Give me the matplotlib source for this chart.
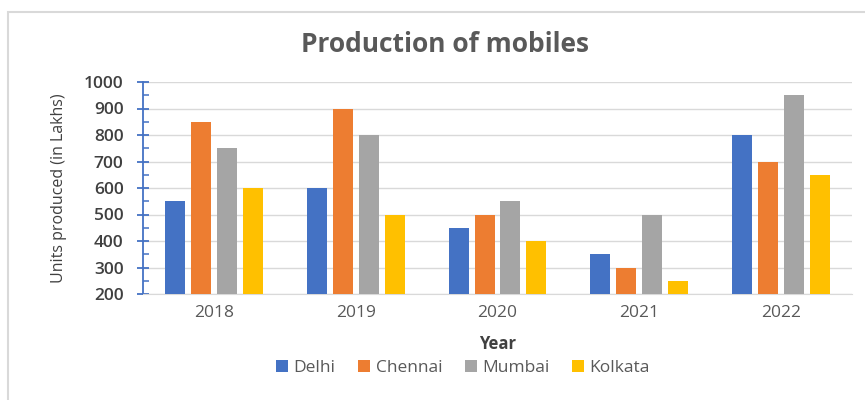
import matplotlib
matplotlib.use("Agg")
import matplotlib.pyplot as plt
import numpy as np
from matplotlib.ticker import MultipleLocator

plt.rcParams["font.family"] = ["Open Sans", "DejaVu Sans"]

years = ["2018", "2019", "2020", "2021", "2022"]
cities = ["Delhi", "Chennai", "Mumbai", "Kolkata"]
delhi = [550, 600, 450, 350, 800]
chennai = [850, 900, 500, 300, 700]
mumbai = [750, 800, 550, 500, 950]
kolkata = [600, 500, 400, 250, 650]
series = [delhi, chennai, mumbai, kolkata]
colors = ["#4472C4", "#ED7D31", "#A5A5A5", "#FFC000"]

TXT = "#595959"

fig = plt.figure(figsize=(8.65, 4.0), dpi=100)
fig.patch.set_facecolor("white")

# light chart border
fig.add_artist(plt.Rectangle((8 / 865, -0.05), 1.1, 1.02,
                             transform=fig.transFigure, fill=False,
                             edgecolor="#d9d9d9", linewidth=1.5))

ax = fig.add_axes([143 / 865, 106 / 400, 709 / 865, 212 / 400])

x = np.arange(len(years))
width = 0.141
step = 0.183
for i, (vals, c, name) in enumerate(zip(series, colors, cities)):
    ax.bar(x + (i - 1.5) * step, np.array(vals) - 200, width, bottom=200,
           color=c, label=name, zorder=3)

ax.set_xlim(-0.5, len(years) - 0.5)
ax.set_ylim(200, 1000)
ax.yaxis.set_major_locator(MultipleLocator(100))
ax.yaxis.set_minor_locator(MultipleLocator(50))
ax.set_xticks(x)
ax.set_xticklabels(years)
ax.grid(axis="y", color="#d9d9d9", linewidth=1, zorder=0)

for s in ["top", "right"]:
    ax.spines[s].set_visible(False)
ax.spines["left"].set_color("#4472C4")
ax.spines["left"].set_linewidth(1.3)
ax.spines["bottom"].set_color("#d9d9d9")
ax.tick_params(axis="y", which="major", direction="inout", length=8,
               color="#4472C4", width=1.3, labelsize=12.5, labelcolor="#404040", pad=10)
ax.tick_params(axis="y", which="minor", direction="in", length=4,
               color="#4472C4", width=1.1)
ax.tick_params(axis="x", length=0, labelsize=12.5, labelcolor=TXT, pad=8)
for lab in ax.get_yticklabels():
    lab.set_fontweight("semibold")

ax.set_ylabel("Units produced (in Lakhs)", fontsize=11.5, color="#404040", labelpad=12)
ax.set_xlabel("Year", fontsize=12, fontweight="bold", color="#404040", labelpad=10)

fig.text(445 / 865, 1 - 45 / 400, "Production of mobiles", ha="center",
         va="center", fontsize=19, fontweight="bold", color=TXT)

fig.legend(loc="center", bbox_to_anchor=(463 / 865, 1 - 368 / 400), ncol=4,
           frameon=False, fontsize=12.5, handlelength=0.7, handleheight=0.7,
           handletextpad=0.3, columnspacing=1.3, labelcolor=TXT)

fig.savefig("out.png", dpi=100, facecolor="white")
